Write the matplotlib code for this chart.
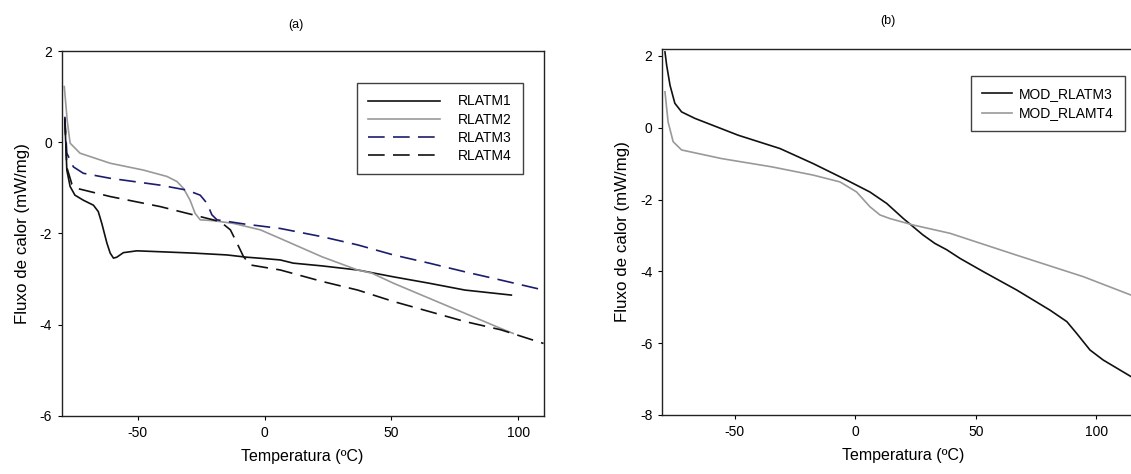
import matplotlib
matplotlib.use('Agg')
import matplotlib.pyplot as plt

plt.rcParams['font.family'] = ['Liberation Sans', 'DejaVu Sans']
plt.rcParams['axes.unicode_minus'] = False
plt.rcParams['lines.scale_dashes'] = False

# panel (a) - DSC curves, temperature (C) vs heat flow (mW/mg)
t_rlatm1 = [-78.8, -78.0, -76.7, -74.8, -71.5, -67.5, -65.6, -64.2, -62.2, -60.9, -59.6,
            -58.3, -55.7, -50.4, -41.2, -28.0, -14.9, -7.0, 0.0, 6.2, 11.3, 22.6, 36.7,
            50.8, 64.9, 79.0, 97.3]
q_rlatm1 = [0.52, -0.61, -0.97, -1.16, -1.27, -1.38, -1.52, -1.78, -2.21, -2.43, -2.54,
            -2.52, -2.42, -2.38, -2.40, -2.43, -2.47, -2.52, -2.55, -2.58, -2.65, -2.71, -2.80,
            -2.95, -3.09, -3.24, -3.35]

t_rlatm2 = [-79.0, -77.8, -76.7, -72.8, -60.9, -47.8, -38.5, -34.6, -32.0, -29.4, -27.4,
            -25.4, -20.1, -12.2, -1.7, 6.2, 22.6, 36.7, 42.3, 50.8, 64.9, 79.0, 93.1, 98.0]
q_rlatm2 = [1.22, 0.45, -0.02, -0.24, -0.46, -0.61, -0.75, -0.86, -1.01, -1.27, -1.56,
            -1.70, -1.72, -1.78, -1.92, -2.11, -2.51, -2.80, -2.87, -3.09, -3.42, -3.75, -4.08, -4.19]

t_rlatm3 = [-78.8, -78.0, -75.4, -71.5, -60.9, -41.2, -30.6, -25.4, -22.7, -20.8, -18.8,
            -8.3, 6.2, 22.6, 36.7, 50.8, 64.9, 79.0, 93.1, 110.0]
q_rlatm3 = [0.56, -0.24, -0.54, -0.68, -0.79, -0.94, -1.05, -1.16, -1.34, -1.59, -1.70,
            -1.79, -1.89, -2.07, -2.25, -2.47, -2.65, -2.84, -3.02, -3.24]

t_rlatm4 = [-78.8, -78.0, -76.0, -74.1, -60.9, -41.2, -25.4, -17.5, -13.5, -10.9, -8.3,
            -5.6, 6.2, 22.6, 36.7, 50.8, 64.9, 79.0, 93.1, 110.0]
q_rlatm4 = [0.52, -0.55, -0.92, -1.01, -1.19, -1.41, -1.63, -1.74, -1.92, -2.21, -2.51,
            -2.69, -2.80, -3.05, -3.24, -3.49, -3.71, -3.93, -4.11, -4.41]

# panel (b)
t_mod3 = [-78.9, -78.2, -76.8, -74.8, -72.0, -66.5, -48.5, -31.2, -17.4, -3.5, 6.1, 13.1,
          20.0, 24.1, 28.0, 33.0, 38.0, 43.5, 53.2, 67.0, 80.8, 87.8, 91.9, 97.4, 102.9,
          114.4, 118.0]
q_mod3 = [2.11, 1.74, 1.18, 0.68, 0.44, 0.26, -0.21, -0.58, -1.00, -1.46, -1.79, -2.11,
          -2.53, -2.76, -2.98, -3.22, -3.40, -3.64, -4.01, -4.52, -5.08, -5.40, -5.73, -6.19, -6.47,
          -6.93, -7.08]

t_mod4 = [-78.9, -77.6, -75.5, -72.0, -55.4, -34.6, -17.4, -6.3, 0.6, 6.1, 10.3, 14.4,
          24.1, 39.3, 67.0, 94.7, 114.4, 118.0]
q_mod4 = [1.00, 0.16, -0.39, -0.62, -0.86, -1.09, -1.32, -1.51, -1.79, -2.20, -2.43, -2.53,
          -2.71, -2.94, -3.55, -4.15, -4.66, -4.74]

fig = plt.figure(figsize=(11.31, 4.74), dpi=100)
ax1 = fig.add_axes([0.0546, 0.1224, 0.426, 0.770])
ax2 = fig.add_axes([0.5856, 0.1245, 0.4263, 0.772])

lw = 1.2
ax1.plot(t_rlatm1, q_rlatm1, color='#111111', lw=lw, label='RLATM1')
ax1.plot(t_rlatm2, q_rlatm2, color='#999999', lw=lw, label='RLATM2')
ax1.plot(t_rlatm3, q_rlatm3, color='#1c1c6e', lw=lw, dashes=(12, 6), label='RLATM3')
ax1.plot(t_rlatm4, q_rlatm4, color='#111111', lw=lw, dashes=(12, 6), label='RLATM4')

ax2.plot(t_mod3, q_mod3, color='#111111', lw=lw, label='MOD_RLATM3')
ax2.plot(t_mod4, q_mod4, color='#999999', lw=lw, label='MOD_RLAMT4')

ax1.set_xlim(-80, 110)
ax1.set_ylim(-6, 2)
ax1.set_xticks([-50, 0, 50, 100])
ax1.set_yticks([-6, -4, -2, 0, 2])

ax2.set_xlim(-80, 120)
ax2.set_ylim(-8, 2.19)
ax2.set_xticks([-50, 0, 50, 100])
ax2.set_yticks([-8, -6, -4, -2, 0, 2])

for ax in (ax1, ax2):
    ax.tick_params(direction='out', length=3, width=0.8, labelsize=10, pad=4,
                   top=False, right=False)
    for s in ax.spines.values():
        s.set_linewidth(1.0)
        s.set_color('#222222')
    ax.set_xlabel('Temperatura (ºC)', fontsize=11.5, labelpad=7)
    ax.set_ylabel('Fluxo de calor (mW/mg)', fontsize=12.2, labelpad=7)

leg1 = ax1.legend(loc='upper right', bbox_to_anchor=(0.958, 0.9115), fontsize=10,
                  handlelength=5.2, handletextpad=1.3, borderpad=0.8, labelspacing=0.30,
                  frameon=True, fancybox=False, borderaxespad=0)
leg1.get_frame().set_edgecolor('#111111')
leg1.get_frame().set_linewidth(1.0)

leg2 = ax2.legend(loc='upper right', bbox_to_anchor=(0.960, 0.926), fontsize=10,
                  handlelength=2.2, handletextpad=0.5, borderpad=0.8, labelspacing=0.37,
                  frameon=True, fancybox=False, borderaxespad=0)
leg2.get_frame().set_edgecolor('#111111')
leg2.get_frame().set_linewidth(1.0)

fig.text(296 / 1131, 1 - 25 / 474, '(a)', ha='center', va='center', fontsize=9)
fig.text(888 / 1131, 1 - 21 / 474, '(b)', ha='center', va='center', fontsize=9)

fig.savefig('out.png', dpi=100)
